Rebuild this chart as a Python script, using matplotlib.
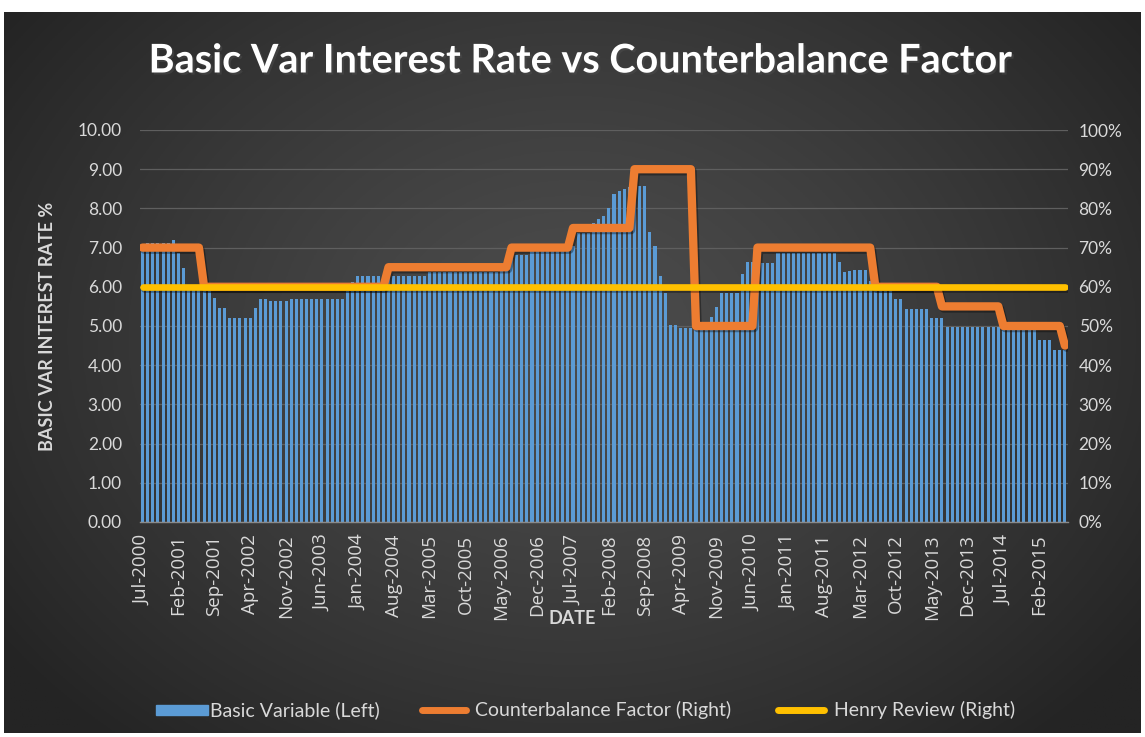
import numpy as np
import matplotlib
matplotlib.use("Agg")
import matplotlib.pyplot as plt
import matplotlib.patheffects as pe
from matplotlib.patches import Rectangle
from matplotlib.lines import Line2D
from matplotlib.ticker import FuncFormatter, MultipleLocator, FixedLocator

# ---------------- data ----------------
start_month = "2000-07"   # first monthly category

basic_variable = [  # Basic variable interest rate, % (left axis), monthly Jul-2000 .. Jul-2015
    7.05, 7.12, 7.12, 7.12, 7.12, 7.12, 7.20, 6.86, 6.48, 6.00, 6.00, 6.00,
    6.00, 6.00, 5.71, 5.46, 5.46, 5.20, 5.20, 5.20, 5.20, 5.20, 5.46, 5.69,
    5.69, 5.65, 5.65, 5.65, 5.65, 5.70, 5.70, 5.70, 5.70, 5.70, 5.70, 5.70,
    5.70, 5.70, 5.70, 5.70, 5.95, 6.13, 6.27, 6.27, 6.27, 6.27, 6.27, 6.27,
    6.27, 6.27, 6.27, 6.27, 6.27, 6.27, 6.27, 6.27, 6.37, 6.37, 6.37, 6.37,
    6.37, 6.37, 6.37, 6.37, 6.37, 6.37, 6.37, 6.37, 6.37, 6.37, 6.55, 6.55,
    6.70, 6.81, 6.81, 6.81, 7.09, 7.09, 7.05, 7.05, 7.05, 7.05, 7.05, 7.05,
    7.05, 7.36, 7.36, 7.36, 7.64, 7.72, 7.80, 8.00, 8.36, 8.44, 8.49, 8.55,
    8.58, 8.58, 8.57, 7.40, 7.03, 6.27, 5.83, 5.03, 5.03, 4.94, 4.94, 4.94,
    4.94, 4.94, 4.94, 5.22, 5.49, 5.83, 5.83, 5.83, 5.85, 6.33, 6.62, 6.62,
    6.62, 6.60, 6.60, 6.60, 6.87, 6.87, 6.87, 6.87, 6.87, 6.87, 6.87, 6.87,
    6.87, 6.87, 6.87, 6.87, 6.63, 6.39, 6.40, 6.42, 6.42, 6.42, 6.15, 5.95,
    5.95, 5.95, 5.95, 5.70, 5.70, 5.43, 5.43, 5.43, 5.43, 5.43, 5.20, 5.20,
    5.20, 4.97, 4.97, 4.97, 4.97, 4.97, 4.97, 4.97, 4.97, 4.97, 4.97, 4.97,
    4.97, 4.97, 4.97, 4.97, 4.97, 4.97, 4.97, 4.64, 4.64, 4.64, 4.39, 4.39,
    4.39,
]

counterbalance_pct = [  # Counterbalance factor, % (right axis)
    70, 70, 70, 70, 70, 70, 70, 70, 70, 70, 70, 70,
    60, 60, 60, 60, 60, 60, 60, 60, 60, 60, 60, 60,
    60, 60, 60, 60, 60, 60, 60, 60, 60, 60, 60, 60,
    60, 60, 60, 60, 60, 60, 60, 60, 60, 60, 60, 60,
    65, 65, 65, 65, 65, 65, 65, 65, 65, 65, 65, 65,
    65, 65, 65, 65, 65, 65, 65, 65, 65, 65, 65, 65,
    70, 70, 70, 70, 70, 70, 70, 70, 70, 70, 70, 70,
    75, 75, 75, 75, 75, 75, 75, 75, 75, 75, 75, 75,
    90, 90, 90, 90, 90, 90, 90, 90, 90, 90, 90, 90,
    50, 50, 50, 50, 50, 50, 50, 50, 50, 50, 50, 50,
    70, 70, 70, 70, 70, 70, 70, 70, 70, 70, 70, 70,
    70, 70, 70, 70, 70, 70, 70, 70, 70, 70, 70, 60,
    60, 60, 60, 60, 60, 60, 60, 60, 60, 60, 60, 60,
    55, 55, 55, 55, 55, 55, 55, 55, 55, 55, 55, 55,
    50, 50, 50, 50, 50, 50, 50, 50, 50, 50, 50, 50,
    45,
]

henry_review_pct = 60  # Henry Review level, % (right axis), constant

tick_every = 7
tick_labels = ["Jul-2000", "Feb-2001", "Sep-2001", "Apr-2002", "Nov-2002", "Jun-2003",
               "Jan-2004", "Aug-2004", "Mar-2005", "Oct-2005", "May-2006", "Dec-2006",
               "Jul-2007", "Feb-2008", "Sep-2008", "Apr-2009", "Nov-2009", "Jun-2010",
               "Jan-2011", "Aug-2011", "Mar-2012", "Oct-2012", "May-2013", "Dec-2013",
               "Jul-2014", "Feb-2015"]

title = "Basic Var Interest Rate vs Counterbalance Factor"
y_title = "BASIC VAR INTEREST RATE %"
x_title = "DATE"
legend_labels = ["Basic Variable (Left)", "Counterbalance Factor (Right)", "Henry Review (Right)"]

# ---------------- styling ----------------
BLUE = "#5b9bd5"
ORANGE = "#ed7d31"
YELLOW = "#ffc000"
TXT = "#d9d9d9"
FONT = ["Lato", "DejaVu Sans"]

W, H = 1145, 737
fig = plt.figure(figsize=(W / 100, H / 100), dpi=100, facecolor="white")

def fx(px):
    return px / W

def fy(py):
    return 1 - py / H

# dark radial-gradient background panel
bg = fig.add_axes([fx(4), fy(733), fx(1141) - fx(4), fy(12) - fy(733)])
bg.set_axis_off()
gx, gy = np.meshgrid(np.linspace(0, 1, 400), np.linspace(0, 1, 300))
r = np.sqrt(((gx - 0.5) / 0.62) ** 2 + ((gy - 0.55) / 0.75) ** 2)
r = np.clip(r, 0, 1)
c_in = np.array([0x4c, 0x4c, 0x4c]) / 255
c_out = np.array([0x24, 0x24, 0x24]) / 255
img = c_in[None, None, :] + (c_out - c_in)[None, None, :] * (r[..., None] ** 1.3)
bg.imshow(img, extent=[0, 1, 0, 1], aspect="auto", origin="lower")

n = len(basic_variable)
x = np.arange(n)

ax = fig.add_axes([fx(140), fy(522), fx(1067.5) - fx(140), fy(130) - fy(522)])
ax.patch.set_alpha(0)
ax.bar(x, basic_variable, width=0.6, color=BLUE, zorder=2, linewidth=0)
ax.set_xlim(-0.5, n - 0.5)
ax.set_ylim(0, 10)
ax.yaxis.set_major_locator(MultipleLocator(1))
ax.yaxis.set_major_formatter(FuncFormatter(lambda v, p: f"{v:.2f}"))
ax.grid(axis="y", color="#5f5f5f", lw=0.9, zorder=0)
ax.set_axisbelow(True)
for s in ["top", "left", "right"]:
    ax.spines[s].set_visible(False)
ax.spines["bottom"].set_color("#8a8a8a")
ax.spines["bottom"].set_linewidth(1.0)
ax.spines["bottom"].set_zorder(5)
ax.xaxis.set_major_locator(FixedLocator(x[::tick_every]))
ax.set_xticklabels(tick_labels, rotation=90, fontsize=13.5, color=TXT,
                   family=["Open Sans", "DejaVu Sans"])
ax.tick_params(axis="x", length=0, pad=9)
ax.tick_params(axis="y", length=0, pad=13, labelsize=12.5, labelcolor=TXT)
for t in ax.get_yticklabels():
    t.set_family(FONT)

ax2 = ax.twinx()
ax2.set_ylim(0, 1)
ax2.yaxis.set_major_locator(MultipleLocator(0.1))
ax2.yaxis.set_major_formatter(FuncFormatter(lambda v, p: f"{v * 100:.0f}%"))
ax2.tick_params(axis="y", length=0, pad=8, labelsize=12.5, labelcolor=TXT)
for t in ax2.get_yticklabels():
    t.set_family(FONT)
for s in ax2.spines.values():
    s.set_visible(False)

shadow = [pe.SimpleLineShadow(offset=(1.2, -1.5), shadow_color="black", alpha=0.35), pe.Normal()]
cb = np.array(counterbalance_pct) / 100
ax2.plot(x, cb, color=ORANGE, lw=6, solid_joinstyle="round", solid_capstyle="round",
         zorder=3, path_effects=shadow)
ax2.plot(x, np.full(n, henry_review_pct / 100), color=YELLOW, lw=4.8,
         solid_capstyle="round", zorder=4, path_effects=shadow)

# titles
fig.text(fx(581), fy(61), title, ha="center", va="center", color="white",
         fontsize=28.5, fontweight="bold", family=FONT,
         path_effects=[pe.withSimplePatchShadow(offset=(1.5, -1.5), alpha=0.5)])
fig.text(fx(48), fy(326), y_title, ha="center", va="center", rotation=90,
         color=TXT, fontsize=13, fontweight="bold", family=FONT)
fig.text(fx(572), fy(618), x_title, ha="center", va="center",
         color=TXT, fontsize=13, fontweight="bold", family=FONT)

# legend (manual)
ly = fy(710)
LFS = 14
fig.patches.append(Rectangle((fx(156), ly - 5 / H), fx(52), 10 / H, transform=fig.transFigure,
                             color=BLUE, zorder=5))
fig.text(fx(210), ly, legend_labels[0], ha="left", va="center", color=TXT, fontsize=LFS, family=FONT)
fig.lines.append(Line2D([fx(422), fx(466)], [ly, ly], transform=fig.transFigure, color=ORANGE,
                        lw=5, solid_capstyle="round"))
fig.text(fx(475), ly, legend_labels[1], ha="left", va="center", color=TXT, fontsize=LFS, family=FONT)
fig.lines.append(Line2D([fx(778), fx(824)], [ly, ly], transform=fig.transFigure, color=YELLOW,
                        lw=5, solid_capstyle="round"))
fig.text(fx(834), ly, legend_labels[2], ha="left", va="center", color=TXT, fontsize=LFS, family=FONT)

fig.savefig("out.png", dpi=100, facecolor="white")
